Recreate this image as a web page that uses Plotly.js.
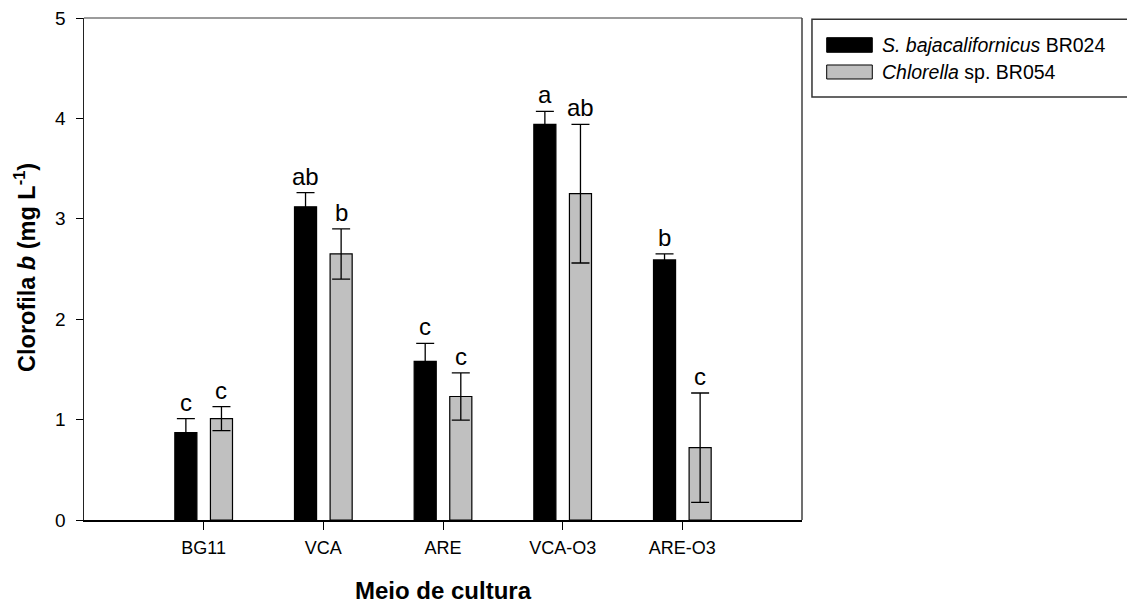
<!DOCTYPE html>
<html>
<head>
<meta charset="utf-8">
<script src="https://cdn.plot.ly/plotly-3.0.1.min.js"></script>
<style>
  html, body { margin: 0; padding: 0; background: #ffffff; }
  #chart { width: 1127px; height: 603px; }
</style>
</head>
<body>
<div id="chart"></div>
<script>
// Culture media
const categories = ['BG11', 'VCA', 'ARE', 'VCA-O3', 'ARE-O3'];

// Chlorophyll b (mg L-1), mean and standard deviation per strain
const scenedesmusMeans = [0.87, 3.12, 1.58, 3.94, 2.59];
const scenedesmusErr   = [0.14, 0.14, 0.18, 0.13, 0.06];
const chlorellaMeans   = [1.01, 2.65, 1.23, 3.25, 0.72];
const chlorellaErr     = [0.12, 0.25, 0.235, 0.69, 0.545];

// Statistical grouping letters
const scenedesmusLetters = ['c', 'ab', 'c', 'a', 'b'];
const chlorellaLetters   = ['c', 'b', 'c', 'ab', 'c'];

const seriesNames = ['<i>S. bajacalifornicus</i> BR024', '<i>Chlorella</i> sp. BR054'];
const yTicks = [0, 1, 2, 3, 4, 5];

const FONT = 'Liberation Sans, Arial, Helvetica, sans-serif';
const BARGAP = 0.405;
const BARGROUPGAP = 0.38;
// half of one slot in a two-bar group, in category units
const slotHalf = (1 - BARGAP) / 4;

const errStyle = { type: 'data', visible: true, color: '#000000', thickness: 1.3, width: 9 };

const traces = [
  {
    type: 'bar', name: seriesNames[0], x: categories, y: scenedesmusMeans,
    marker: { color: '#000000', line: { color: '#000000', width: 1.2 } },
    error_y: Object.assign({ array: scenedesmusErr }, errStyle),
    hoverinfo: 'y'
  },
  {
    type: 'bar', name: seriesNames[1], x: categories, y: chlorellaMeans,
    marker: { color: '#c0c0c0', line: { color: '#000000', width: 1.2 } },
    error_y: Object.assign({ array: chlorellaErr }, errStyle),
    hoverinfo: 'y'
  }
];

const letterFont = { family: FONT, size: 24, color: '#000000' };
const annotations = [];
categories.forEach((c, i) => {
  annotations.push({
    x: i - slotHalf, y: scenedesmusMeans[i] + scenedesmusErr[i], xref: 'x', yref: 'y',
    text: scenedesmusLetters[i], showarrow: false, xanchor: 'center', yanchor: 'bottom',
    yshift: 1, font: letterFont
  });
  annotations.push({
    x: i + slotHalf, y: chlorellaMeans[i] + chlorellaErr[i], xref: 'x', yref: 'y',
    text: chlorellaLetters[i], showarrow: false, xanchor: 'center', yanchor: 'bottom',
    yshift: 1, font: letterFont
  });
});

// Axis titles
annotations.push({
  xref: 'paper', yref: 'paper', x: -0.0815, y: 0.503, textangle: -90,
  text: '<b>Clorofila <i>b</i> (mg L<sup>-1</sup>)</b>', showarrow: false,
  xanchor: 'center', yanchor: 'middle', font: { family: FONT, size: 23.5, color: '#000000' }
});
annotations.push({
  xref: 'paper', yref: 'paper', x: 0.5, y: -0.141,
  text: '<b>Meio de cultura</b>', showarrow: false,
  xanchor: 'center', yanchor: 'middle', font: { family: FONT, size: 24, color: '#000000' }
});

// Legend box drawn beside the plot
const legendSwatch = [
  { fill: '#000000', y0: 0.9317, y1: 0.9608, ty: 0.9462 },
  { fill: '#c0c0c0', y0: 0.8785, y1: 0.9064, ty: 0.8924 }
];
const shapes = [
  // frame top and right
  { type: 'line', xref: 'paper', yref: 'paper', x0: 0, x1: 1, y0: 1, y1: 1, line: { color: '#7a7a7a', width: 1.5 } },
  { type: 'line', xref: 'paper', yref: 'paper', x0: 1, x1: 1, y0: 0, y1: 1, line: { color: '#404040', width: 1.5 } },
  // legend border
  { type: 'rect', xref: 'paper', yref: 'paper', x0: 1.0139, x1: 1.46, y0: 0.8426, y1: 0.9975,
    line: { color: '#333333', width: 1.5 }, fillcolor: 'rgba(0,0,0,0)' }
];
legendSwatch.forEach((s, k) => {
  shapes.push({ type: 'rect', xref: 'paper', yref: 'paper', x0: 1.0344, x1: 1.0979, y0: s.y0, y1: s.y1,
    line: { color: '#000000', width: 1 }, fillcolor: s.fill });
  annotations.push({ xref: 'paper', yref: 'paper', x: 1.1086, y: s.ty, text: seriesNames[k],
    showarrow: false, xanchor: 'left', yanchor: 'middle', font: { family: FONT, size: 19.5, color: '#000000' } });
});

const layout = {
  width: 1127, height: 603,
  margin: { l: 84, r: 325, t: 18, b: 83, pad: 0 },
  paper_bgcolor: '#ffffff', plot_bgcolor: '#ffffff',
  barmode: 'group', bargap: BARGAP, bargroupgap: BARGROUPGAP,
  showlegend: false,
  font: { family: FONT, color: '#000000' },
  xaxis: {
    type: 'category', range: [-1, 5], showgrid: false, zeroline: false,
    showline: true, linecolor: '#000000', linewidth: 1.8,
    ticks: 'outside', ticklen: 8, tickwidth: 1, tickcolor: '#000000',
    ticklabelstandoff: 3,
    tickfont: { family: FONT, size: 18, color: '#000000' }
  },
  yaxis: {
    range: [0, 5], tickvals: yTicks, ticktext: yTicks.map(String),
    showgrid: false, zeroline: false,
    showline: true, linecolor: '#222222', linewidth: 1.5,
    ticks: 'outside', ticklen: 7, tickwidth: 1, tickcolor: '#000000',
    ticklabelstandoff: 6,
    tickfont: { family: FONT, size: 19, color: '#000000' }
  },
  annotations: annotations,
  shapes: shapes
};

Plotly.newPlot('chart', traces, layout, { displayModeBar: false, staticPlot: true });
</script>
</body>
</html>
